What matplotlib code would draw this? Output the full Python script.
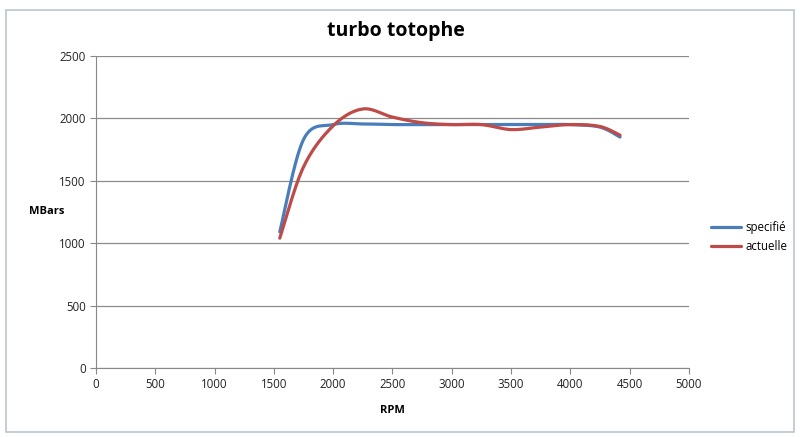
import matplotlib.pyplot as plt
import numpy as np

rpm_spec = [1550, 1750, 2000, 2250, 2500, 2750, 3000, 3250, 3500, 3750, 4000, 4250, 4420]
spec = [1090, 1830, 1950, 1955, 1950, 1950, 1950, 1950, 1950, 1950, 1950, 1930, 1850]

rpm_act = [1550, 1750, 2000, 2250, 2500, 2750, 3000, 3250, 3500, 3750, 4000, 4250, 4420]
act = [1040, 1610, 1940, 2075, 2010, 1965, 1950, 1950, 1910, 1930, 1950, 1935, 1865]

x_ticks = [0, 500, 1000, 1500, 2000, 2500, 3000, 3500, 4000, 4500, 5000]
y_ticks = [0, 500, 1000, 1500, 2000, 2500]


def smooth(xs, ys, n=30):
    # courbe lissée façon Excel (Bezier / Catmull-Rom)
    p = np.column_stack([xs, ys]).astype(float)
    p = np.vstack([p[0], p, p[-1]])
    out = []
    t = np.linspace(0, 1, n)[:, None]
    for i in range(1, len(p) - 2):
        p0, p1, p2, p3 = p[i - 1], p[i], p[i + 1], p[i + 2]
        c1 = p1 + (p2 - p0) / 6
        c2 = p2 - (p3 - p1) / 6
        seg = (1 - t) ** 3 * p1 + 3 * (1 - t) ** 2 * t * c1 + 3 * (1 - t) * t ** 2 * c2 + t ** 3 * p2
        out.append(seg)
    out = np.vstack(out)
    return out[:, 0], out[:, 1]


plt.rcParams['font.family'] = ['Open Sans', 'DejaVu Sans']

fig = plt.figure(figsize=(8, 4.37), dpi=100)
ax = fig.add_axes([0.12, 0.158, 0.741, 0.714])

sx, sy = smooth(rpm_spec, spec)
ax.plot(sx, sy, color='#4a7ebb', linewidth=2.3, label='specifié', solid_capstyle='round')
ax.plot(*smooth(rpm_act, act), color='#be4b48', linewidth=2.3, label='actuelle', solid_capstyle='round')

ax.set_xlim(0, 5000)
ax.set_ylim(0, 2500)
ax.set_xticks(x_ticks)
ax.set_yticks(y_ticks)
ax.tick_params(labelsize=8.3, colors='#888888', labelcolor='#222222', length=4, direction='out')
ax.yaxis.grid(True, color='#8c8c8c', linewidth=0.9)
ax.set_axisbelow(True)
for s in ['top', 'right']:
    ax.spines[s].set_visible(False)
for s in ['left', 'bottom']:
    ax.spines[s].set_color('#888888')

ax.set_xlabel('RPM', fontsize=8, fontweight='bold', labelpad=10)
fig.text(0.058, 0.515, 'MBars', fontsize=8, fontweight='bold', ha='center', va='center')
fig.text(0.495, 0.93, 'turbo totophe', fontsize=14, fontweight='bold', ha='center', va='center')

ax.legend(loc='center left', bbox_to_anchor=(1.02, 0.42), frameon=False, fontsize=8.3,
          handlelength=2.6, handletextpad=0.4, labelspacing=0.55)

fig.patches.append(plt.Rectangle((0.008, 0.012), 0.984, 0.965, transform=fig.transFigure,
                                 fill=False, edgecolor='#b7c7d6', linewidth=1.2))
fig.savefig('out.png', dpi=100)
